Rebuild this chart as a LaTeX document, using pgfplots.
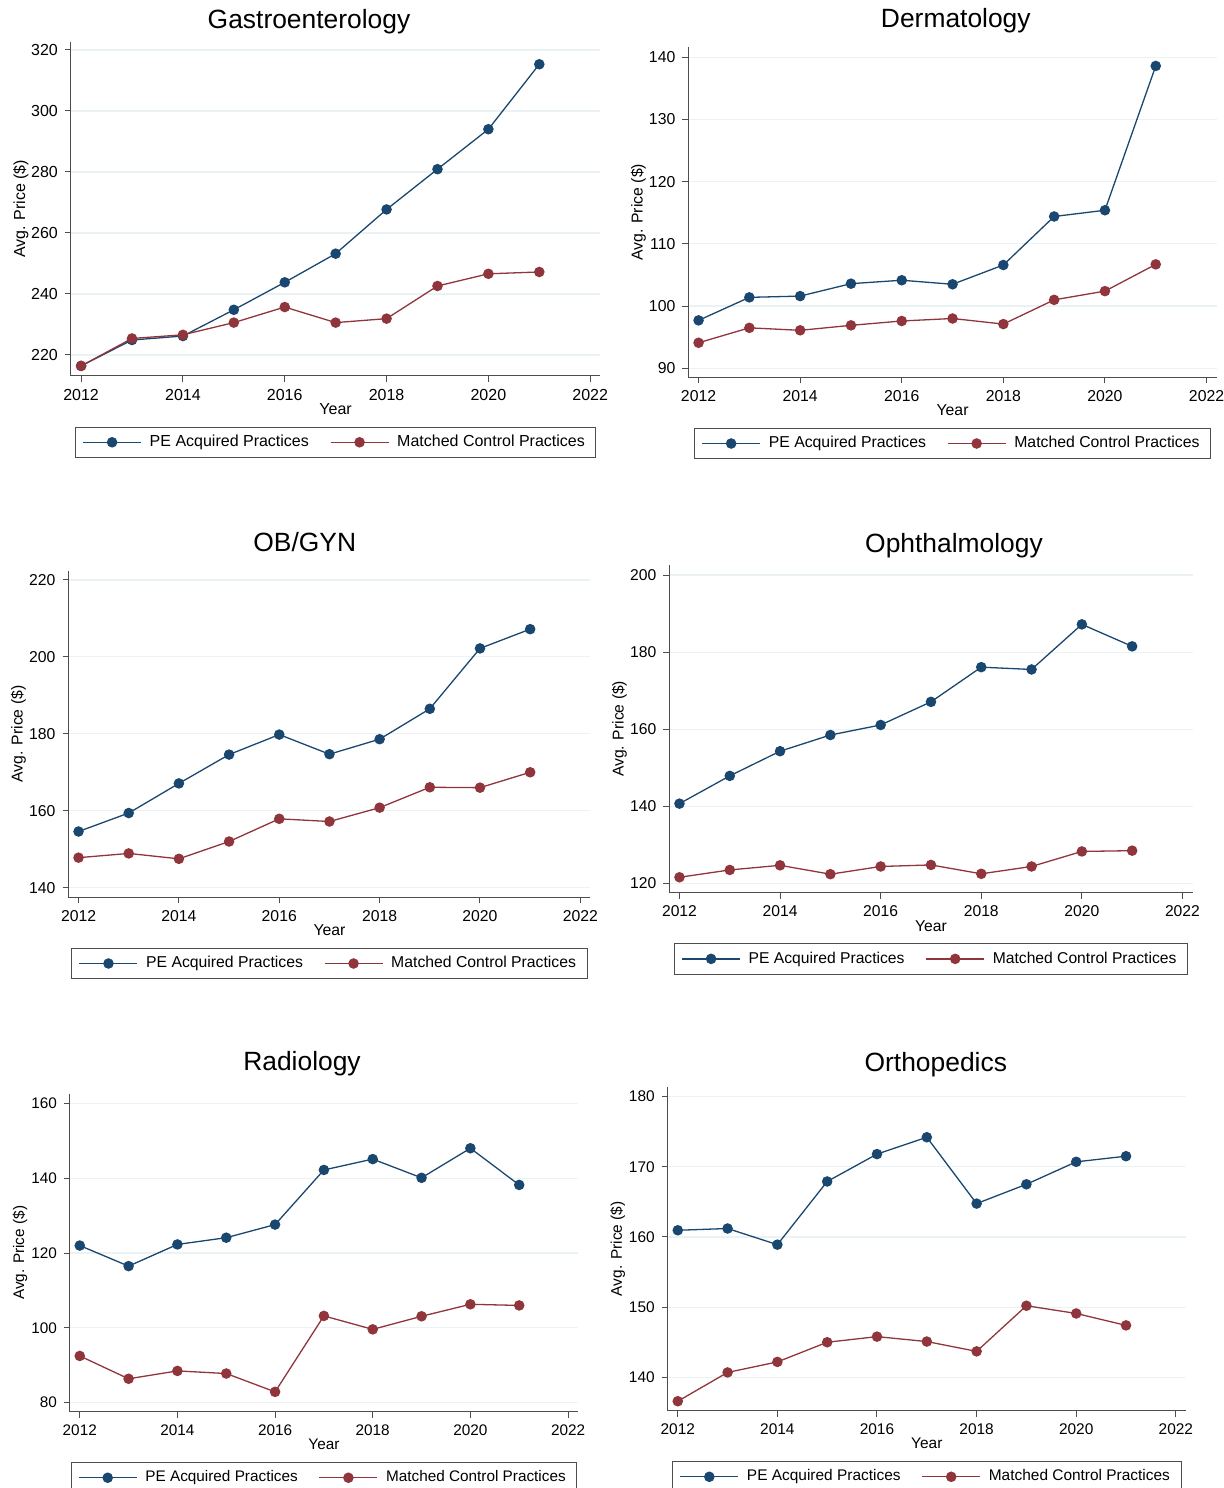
\documentclass[border=0pt]{standalone}
\usepackage{fontspec}
\setmainfont{Liberation Sans}
\usepackage{pgfplots}
\pgfplotsset{compat=1.18}
\definecolor{peblue}{HTML}{1A476F}
\definecolor{ctred}{HTML}{90353B}
\definecolor{gridc}{HTML}{EAF2F3}
\definecolor{axc}{HTML}{4D4D4D}
\pgfplotsset{
 panel/.style={
   scale only axis, anchor=south west,
   xmin=2011.8, xmax=2022.2,
   xtick={2012,2014,...,2022},
   axis x line*=bottom, axis y line*=left,
   axis line style={axc, line width=0.5pt},
   tick align=outside, major tick length=3pt,
   tick style={axc, line width=0.5pt},
   ymajorgrids, major grid style={gridc, line width=0.6pt},
   xticklabel style={font=\fontsize{#1}{#1}\selectfont},
   yticklabel style={font=\fontsize{#1}{#1}\selectfont},
   /pgf/number format/assume math mode=true,
   /pgf/number format/1000 sep={},
   xlabel=Year, ylabel={Avg. Price (\$)},
   every axis x label/.style={at={(axis description cs:0.5,0)}, anchor=center, yshift=-16.5pt, font=\fontsize{#1}{#1}\selectfont},
   every axis y label/.style={at={(axis description cs:0,0.5)}, rotate=90, anchor=center, yshift=25pt, font=\fontsize{#1}{#1}\selectfont},
   legend columns=2,
   legend style={at={(0.5,0)}, anchor=north, yshift=-25.3pt, draw=axc, inner xsep=3.5pt,
     font=\fontsize{#1}{#1}\selectfont,
     /tikz/every odd column/.append style={column sep=2pt},
     /tikz/every even column/.append style={column sep=8.5pt}},
   legend image code/.code={\draw[mark repeat=2,mark phase=2] plot coordinates {(0pt,0pt) (14.5pt,0pt) (29pt,0pt)};},
 },
 pe/.style={peblue, line width=0.65pt, mark=*, mark size=2.3pt, mark options={solid, fill=peblue, draw=peblue}},
 ct/.style={ctred, line width=0.65pt, mark=*, mark size=2.3pt, mark options={solid, fill=ctred, draw=ctred}},
}
\begin{document}
\begin{tikzpicture}
\path[use as bounding box] (0,0) rectangle (612pt,744pt);
% Gastroenterology
\begin{axis}[panel=8, at={(35.45pt,556pt)}, width=264.75pt, height=167.15pt,
  ymin=213.1, ymax=322.7, ytick={220,240,...,320}]
\addplot[pe] coordinates {(2012,216.4) (2013,224.9) (2014,226.2) (2015,234.8) (2016,243.8) (2017,253.2) (2018,267.7) (2019,280.9) (2020,294.0) (2021,315.3)};
\addplot[ct] coordinates {(2012,216.4) (2013,225.4) (2014,226.6) (2015,230.6) (2016,235.7) (2017,230.6) (2018,231.9) (2019,242.6) (2020,246.6) (2021,247.2)};
\legend{PE Acquired Practices, Matched Control Practices}
\end{axis}
% Dermatology
\begin{axis}[panel=7.9, at={(344.2pt,555.35pt)}, width=264.15pt, height=165pt,
  ymin=88.55, ymax=141.6, ytick={90,100,...,140}]
\addplot[pe] coordinates {(2012,97.7) (2013,101.4) (2014,101.6) (2015,103.6) (2016,104.15) (2017,103.5) (2018,106.6) (2019,114.4) (2020,115.4) (2021,138.6)};
\addplot[ct] coordinates {(2012,94.1) (2013,96.5) (2014,96.1) (2015,96.9) (2016,97.6) (2017,98.0) (2018,97.1) (2019,101.0) (2020,102.4) (2021,106.7)};
\legend{PE Acquired Practices, Matched Control Practices}
\end{axis}
% OB/GYN
\begin{axis}[panel=7.88, at={(34.25pt,295.35pt)}, width=260.95pt, height=163.3pt,
  ymin=137.5, ymax=222.4, ytick={140,160,...,220}]
\addplot[pe] coordinates {(2012,154.6) (2013,159.4) (2014,167.1) (2015,174.6) (2016,179.8) (2017,174.7) (2018,178.6) (2019,186.5) (2020,202.2) (2021,207.2)};
\addplot[ct] coordinates {(2012,147.8) (2013,148.9) (2014,147.5) (2015,152.0) (2016,157.9) (2017,157.2) (2018,160.8) (2019,166.1) (2020,166.0) (2021,170.0)};
\legend{PE Acquired Practices, Matched Control Practices}
\end{axis}
% Ophthalmology
\begin{axis}[panel=7.83, at={(334.7pt,297.65pt)}, width=261.55pt, height=163.85pt,
  ymin=117.6, ymax=202.6, ytick={120,140,...,200}]
\addplot[pe] coordinates {(2012,140.7) (2013,147.9) (2014,154.3) (2015,158.5) (2016,161.1) (2017,167.1) (2018,176.1) (2019,175.5) (2020,187.2) (2021,181.5)};
\addplot[ct] coordinates {(2012,121.6) (2013,123.5) (2014,124.7) (2015,122.4) (2016,124.4) (2017,124.8) (2018,122.5) (2019,124.4) (2020,128.3) (2021,128.5)};
\legend{PE Acquired Practices, Matched Control Practices}
\end{axis}
% Radiology
\begin{axis}[panel=7.66, at={(35pt,38.15pt)}, width=253.9pt, height=158.85pt,
  ymin=77.6, ymax=162.5, ytick={80,100,...,160}]
\addplot[pe] coordinates {(2012,122.0) (2013,116.5) (2014,122.3) (2015,124.1) (2016,127.6) (2017,142.2) (2018,145.1) (2019,140.1) (2020,148.0) (2021,138.2)};
\addplot[ct] coordinates {(2012,92.5) (2013,86.4) (2014,88.5) (2015,87.8) (2016,82.9) (2017,103.2) (2018,99.6) (2019,103.1) (2020,106.3) (2021,106.0)};
\legend{PE Acquired Practices, Matched Control Practices}
\end{axis}
% Orthopedics
\begin{axis}[panel=7.72, at={(333.9pt,38.65pt)}, width=259pt, height=162pt,
  ymin=135.25, ymax=181.4, ytick={140,150,...,180}]
\addplot[pe] coordinates {(2012,160.95) (2013,161.2) (2014,158.9) (2015,167.9) (2016,171.8) (2017,174.2) (2018,164.75) (2019,167.5) (2020,170.7) (2021,171.5)};
\addplot[ct] coordinates {(2012,136.6) (2013,140.7) (2014,142.2) (2015,145.0) (2016,145.8) (2017,145.1) (2018,143.7) (2019,150.2) (2020,149.1) (2021,147.4)};
\legend{PE Acquired Practices, Matched Control Practices}
\end{axis}
% titles
\begin{scope}[every node/.style={anchor=base, font=\fontsize{13.2}{15}\selectfont}]
\node at (154.5pt,729.75pt) {Gastroenterology};
\node at (477.9pt,730.15pt) {Dermatology};
\node at (152.4pt,468.15pt) {OB/GYN};
\node at (477pt,467.5pt) {Ophthalmology};
\node at (151pt,208.5pt) {Radiology};
\node at (467.9pt,208.25pt) {Orthopedics};
\end{scope}
\end{tikzpicture}
\end{document}
